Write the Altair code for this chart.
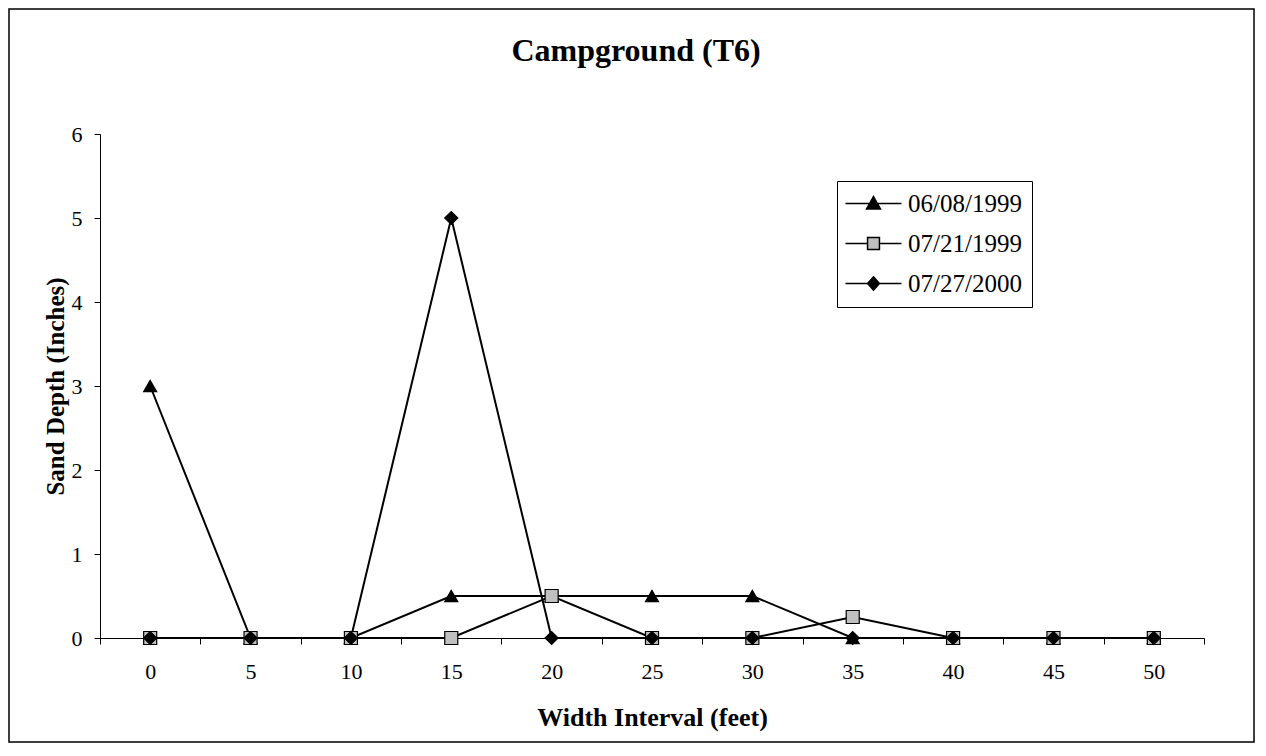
import altair as alt
import pandas as pd

# ---- data ----
widths = [0, 5, 10, 15, 20, 25, 30, 35, 40, 45, 50]
series = ["06/08/1999", "07/21/1999", "07/27/2000"]
depth_0608_1999 = [3, 0, 0, 0.5, 0.5, 0.5, 0.5, 0, 0, 0, 0]
depth_0721_1999 = [0, 0, 0, 0, 0.5, 0, 0, 0.25, 0, 0, 0]
depth_0727_2000 = [0, 0, 0, 5, 0, 0, 0, 0, 0, 0, 0]
y_ticks = [0, 1, 2, 3, 4, 5, 6]

rows = []
for name, vals in zip(series, [depth_0608_1999, depth_0721_1999, depth_0727_2000]):
    for w, v in zip(widths, vals):
        rows.append({"Width": w, "Depth": v, "Date": name})
df = pd.DataFrame(rows)

FONT = "Liberation Serif"
W, H = 1104, 504

marker_shapes = ["triangle-up", "square", "diamond"]
marker_fills = ["black", "#c0c0c0", "black"]
marker_strokes = ["black", "black", "black"]
legend_paths = [
    "M-4,0H4M0,-1L1,0.8L-1,0.8Z",
    "M-4,0H-0.85M0.85,0H4M-0.85,-0.85H0.85V0.85H-0.85Z",
    "M-4,0H4M0,-0.95L0.85,0L0,0.95L-0.85,0Z",
]

x_enc = alt.X(
    "Width:O",
    bandPosition=0.5,
    scale=alt.Scale(type="band", paddingInner=0, paddingOuter=0),
    axis=alt.Axis(
        title="Width Interval (feet)", labelAngle=0, tickBand="extent",
        tickSize=6, labelPadding=17, titlePadding=22,
        labelFontSize=22, titleFontSize=26,
    ),
)
y_enc = alt.Y(
    "Depth:Q",
    scale=alt.Scale(domain=[0, 6], nice=False),
    axis=alt.Axis(
        title="Sand Depth (Inches)", values=y_ticks, tickSize=6,
        labelPadding=12, titlePadding=3, labelFontSize=22, titleFontSize=25,
    ),
)

base = alt.Chart(df)

lines = base.mark_line(color="black", strokeWidth=2).encode(
    x=x_enc, y=y_enc, detail="Date:N"
)

points = base.mark_point(filled=True, stroke="black", strokeWidth=1.2, opacity=1, size=170).encode(
    x=x_enc, y=y_enc,
    shape=alt.Shape("Date:N", scale=alt.Scale(domain=series, range=marker_shapes), legend=None),
    fill=alt.Fill("Date:N", scale=alt.Scale(domain=series, range=marker_fills), legend=None),
)

legend_layer = base.transform_filter("false").mark_point(
    filled=True, strokeWidth=1.5, opacity=1, size=196
).encode(
    x=x_enc, y=y_enc,
    shape=alt.Shape("Date:N", scale=alt.Scale(domain=series, range=legend_paths), legend=alt.Legend(title=None)),
    fill=alt.Fill("Date:N", scale=alt.Scale(domain=series, range=marker_fills), legend=alt.Legend(title=None)),
    stroke=alt.Stroke("Date:N", scale=alt.Scale(domain=series, range=marker_strokes), legend=alt.Legend(title=None)),
)

border = alt.Chart(pd.DataFrame({"k": [0]})).mark_rect(
    fillOpacity=0, stroke="black", strokeWidth=1.5
).encode(
    x=alt.value(-91), x2=alt.value(1154), y=alt.value(-125), y2=alt.value(608)
)

chart = alt.layer(border, lines, points, legend_layer).resolve_scale(
    shape="independent", fill="independent", stroke="independent"
).properties(
    width=W, height=H,
    title=alt.Title("Campground (T6)", font=FONT, fontSize=32, fontWeight="bold",
                    anchor="middle", offset=-60, dx=-16, color="black"),
    autosize=alt.AutoSizeParams(type="none"),
    padding={"left": 92, "top": 126, "right": 52, "bottom": 106},
).configure_view(stroke=None).configure_axis(
    grid=False, domainColor="black", tickColor="black", labelColor="black",
    titleColor="black", labelFont=FONT, titleFont=FONT, titleFontWeight="bold",
    domainWidth=1, tickWidth=1,
).configure_legend(
    orient="none", legendX=737, legendY=47, strokeColor="black", fillColor="white",
    padding=10, labelFont=FONT, labelFontSize=25, labelColor="black",
    symbolOffset=14, labelOffset=22, rowPadding=14, symbolSize=196,
    symbolStrokeWidth=1.5, symbolStrokeColor="black",
)

chart.save("out.html", embed_options={"renderer": "svg", "actions": False})
